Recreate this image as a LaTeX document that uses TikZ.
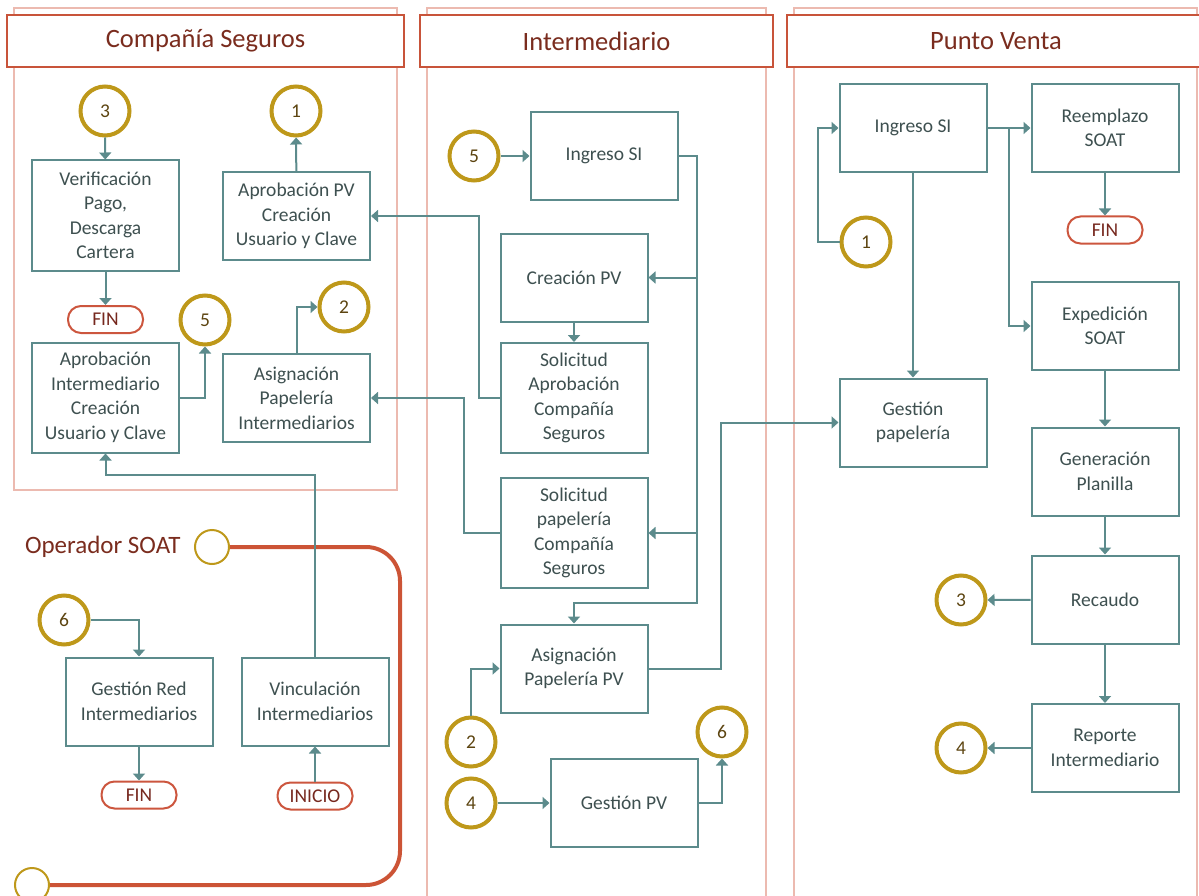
\documentclass[tikz,border=0pt]{standalone}
\usepackage{fontspec}
\setmainfont{Carlito}
\usetikzlibrary{
  arrows.meta,
  positioning,
  calc
}
\definecolor{LineTeal}{RGB}{92,139,140}
\definecolor{TextSlate}{RGB}{62,80,80}
\definecolor{RingGold}{RGB}{190,152,26}
\definecolor{NumBrown}{RGB}{92,68,16}
\definecolor{HeadRed}{RGB}{200,84,58}
\definecolor{HeadText}{RGB}{122,44,30}
\definecolor{FramePink}{RGB}{236,186,176}
\definecolor{TermRed}{RGB}{204,86,62}
\definecolor{TermText}{RGB}{118,40,30}
\definecolor{OperRed}{RGB}{204,84,54}
\newcommand{\boxfont}{\fontsize{19.5}{24.5}\selectfont}
\newcommand{\headfont}{\fontsize{26.5}{30}\selectfont}
\newcommand{\operfont}{\fontsize{25}{30}\selectfont}
\tikzset{
  procbox/.style={draw=LineTeal,line width=2pt,fill=white,minimum width=147pt,minimum height=88pt,align=center,text=TextSlate,font=\boxfont,inner sep=2pt},
  tallbox/.style={procbox,minimum height=110pt},
  refcircle/.style={circle,draw=RingGold,line width=4pt,minimum size=49pt,inner sep=0pt,text=NumBrown,font=\boxfont},
  termnode/.style={draw=TermRed,line width=2pt,fill=white,rounded corners=13pt,minimum width=75pt,minimum height=27pt,inner sep=0pt,text=TermText,font=\boxfont},
  lanehead/.style={draw=HeadRed,line width=2.5pt,fill=white,minimum height=52pt,text=HeadText,font=\headfont},
  laneframe/.style={draw=FramePink,line width=2pt},
  flow/.style={-{Triangle[length=7pt,width=12pt]},draw=LineTeal,line width=2pt},
  operline/.style={draw=OperRed,line width=4pt,rounded corners=34pt},
  opercircle/.style={circle,draw=RingGold,line width=2pt,fill=white,minimum size=34pt,inner sep=0pt}
}
\begin{document}
\begin{tikzpicture}[x=1pt,y=-1pt]
\useasboundingbox (0,0) rectangle (1199,896);
% lanes
\draw[laneframe] (14,8) rectangle (397,490);
\draw[laneframe] (427,910) -- (427,8) -- (766,8) -- (766,910);
\draw[laneframe] (794,910) -- (794,8) -- (1197,8) -- (1197,910);
\node[lanehead, minimum width=397pt] (hCS) at (205.5,41) {Compañía Seguros};
\node[lanehead, minimum width=353pt] (hIN) at (596.5,41) {Intermediario};
\node[lanehead, minimum width=418pt] (hPV) at (996,41) {Punto Venta};
% operador SOAT
\node[opercircle] (opA) at (212,547) {};
\node[opercircle] (opB) at (32,885) {};
\node[font=\operfont, text=HeadText, left=10pt of opA] (opLabel) {Operador SOAT};
\coordinate (opTR) at (400,547);
\coordinate (opBR) at (400,885);
\draw[operline] (opA.east) -- (opTR) -- (opBR) -- (opB.east);
% Compania Seguros
\node[refcircle] (c3a) at (105,111) {3};
\node[refcircle] (c1a) at (296,111) {1};
\node[tallbox] (verif) at (105.5,215.5) {Verificación\\Pago,\\Descarga\\Cartera};
\node[procbox] (aprobPV) at (296.5,216) {Aprobación PV\\Creación\\Usuario y Clave};
\node[termnode] (fin1) at (105.5,319.5) {FIN};
\node[refcircle] (c5a) at (205,320) {5};
\node[refcircle] (c2a) at (344,307) {2};
\node[tallbox] (aprobInt) at (105.5,397.5) {Aprobación\\Intermediario\\Creación\\Usuario y Clave};
\node[procbox] (asigInt) at (296.5,398) {Asignación\\Papelería\\Intermediarios};
\node[refcircle] (c6a) at (64,620) {6};
\node[procbox] (gesRed) at (139,701.5) {Gestión Red\\Intermediarios};
\node[procbox] (vinc) at (315,701.5) {Vinculación\\Intermediarios};
\node[termnode] (fin2) at (139,795) {FIN};
\node[termnode] (inicio) at (315,796) {INICIO};
\draw[flow] (c3a) -- (verif);
\draw[flow] (aprobPV) -- (c1a);
\draw[flow] (verif) -- (fin1);
\draw[flow] (aprobInt.east) -| (c5a.south);
\draw[flow] (asigInt.north) |- (c2a.west);
\coordinate (vincUp) at (315,475);
\draw[flow] (vinc.north) -- (vincUp) -| (aprobInt.south);
\draw[flow] (c6a.east) -| (gesRed.north);
\draw[flow] (gesRed) -- (fin2);
\draw[flow] (inicio) -- (vinc);
% Intermediario
\node[refcircle] (c5b) at (474,156) {5};
\node[procbox] (ingresoA) at (604,156) {Ingreso SI};
\node[procbox] (creaPV) at (574,277.5) {Creación PV};
\node[tallbox] (solAprob) at (574,398) {Solicitud\\Aprobación\\Compañía\\Seguros};
\node[tallbox] (solPap) at (574,533) {Solicitud\\papelería\\Compañía\\Seguros};
\node[procbox] (asigPV) at (574,668.5) {Asignación\\Papelería PV};
\node[refcircle] (c2b) at (471,742) {2};
\node[refcircle] (c4b) at (471,803) {4};
\node[procbox] (gesPV) at (624,803) {Gestión PV};
\node[refcircle] (c6b) at (722,732) {6};
\draw[flow] (c5b) -- (ingresoA);
\coordinate (busIn) at (697,603);
\draw[flow] (ingresoA.east) -| (busIn) -| (asigPV.north);
\draw[flow] (busIn |- creaPV.east) -- (creaPV.east);
\draw[flow] (busIn |- solPap.east) -- (solPap.east);
\draw[flow] (creaPV) -- (solAprob);
\draw[flow] (solAprob.west) -- ++(-21,0) |- (aprobPV.east);
\draw[flow] (solPap.west) -- ++(-36,0) |- (asigInt.east);
\draw[flow] (c2b.north) |- (asigPV.west);
\draw[flow] (c4b) -- (gesPV);
\draw[flow] (gesPV.east) -| (c6b.south);
% Punto Venta
\node[procbox] (ingresoB) at (913,128) {Ingreso SI};
\node[procbox] (reemp) at (1105,128) {Reemplazo\\SOAT};
\node[termnode] (fin3) at (1105,230) {FIN};
\node[refcircle] (c1b) at (866,242) {1};
\node[procbox] (exped) at (1105,326) {Expedición\\SOAT};
\node[procbox] (gesPap) at (913,422.5) {Gestión\\papelería};
\node[procbox] (genPla) at (1105,471.5) {Generación\\Planilla};
\node[procbox] (recaudo) at (1105,599.5) {Recaudo};
\node[procbox] (reporte) at (1105,748) {Reporte\\Intermediario};
\node[refcircle] (c3b) at (961,600) {3};
\node[refcircle] (c4c) at (961,748) {4};
\draw[flow] (asigPV.east) -- ++(72,0) |- (gesPap.west);
\draw[flow] (c1b.west) -- ++(-22,0) |- (ingresoB.west);
\draw[flow] (ingresoB) -- (reemp);
\coordinate (brIS) at ($(ingresoB.east)!0.5!(reemp.west)$);
\draw[flow] (brIS) |- (exped.west);
\draw[flow] (ingresoB) -- (gesPap);
\draw[flow] (reemp) -- (fin3);
\draw[flow] (exped) -- (genPla);
\draw[flow] (genPla) -- (recaudo);
\draw[flow] (recaudo) -- (reporte);
\draw[flow] (recaudo) -- (c3b);
\draw[flow] (reporte) -- (c4c);
\end{tikzpicture}
\end{document}
